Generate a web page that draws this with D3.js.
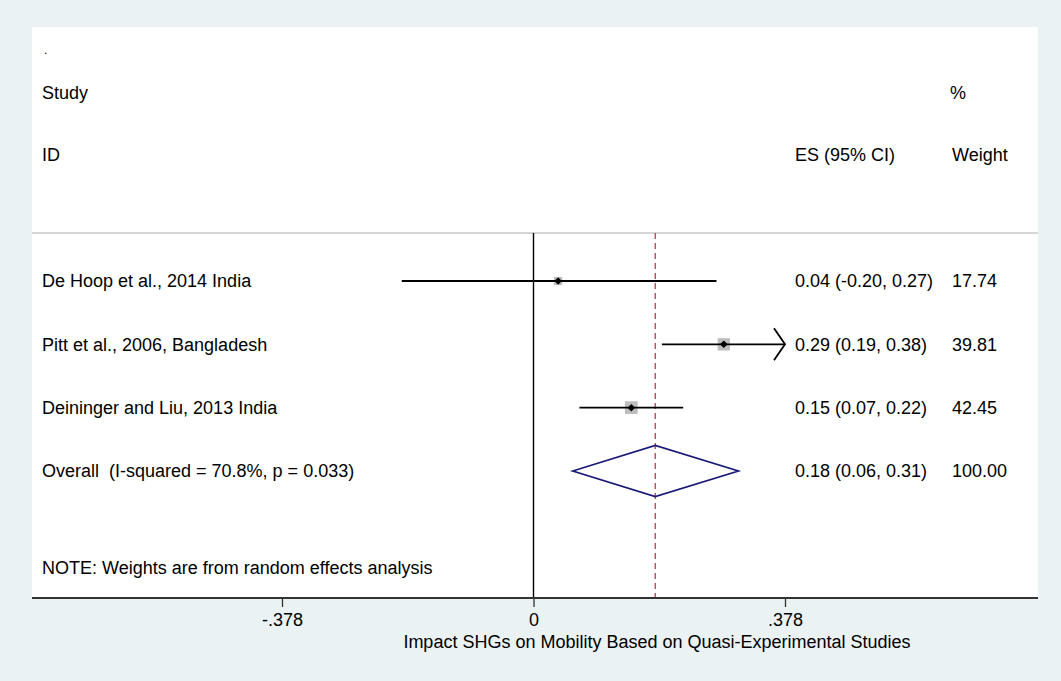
<!DOCTYPE html>
<html>
<head>
<meta charset="utf-8">
<script src="https://cdn.jsdelivr.net/npm/d3@7"></script>
<style>
  html, body { margin: 0; padding: 0; background: #eaf2f3; }
  svg { display: block; }
  text { font-family: "Liberation Sans", Arial, Helvetica, sans-serif; fill: #000; white-space: pre; }
</style>
</head>
<body>
<svg id="chart" width="1061" height="681"></svg>
<script>
// ---------- data ----------
const studies = ["De Hoop et al., 2014 India", "Pitt et al., 2006, Bangladesh", "Deininger and Liu, 2013 India"];
const es      = [0.037, 0.286, 0.147];
const lower   = [-0.198, 0.193, 0.069];
const upper   = [0.275, 0.380, 0.225];
const weights = [17.74, 39.81, 42.45];
const esLabels = ["0.04 (-0.20, 0.27)", "0.29 (0.19, 0.38)", "0.15 (0.07, 0.22)"];

const overallLabel = "Overall  (I-squared = 70.8%, p = 0.033)";
const overallES = 0.183;
const overallLower = 0.059;
const overallUpper = 0.308;
const overallESLabel = "0.18 (0.06, 0.31)";
const overallWeight = 100.00;

const tickValues = [-0.378, 0, 0.378];
const tickLabels = ["-.378", "0", ".378"];
const xTitle = "Impact SHGs on Mobility Based on Quasi-Experimental Studies";
const note = "NOTE: Weights are from random effects analysis";

// ---------- layout ----------
const W = 1061, H = 681;
const plot = { left: 32, right: 1038, top: 27, bottom: 598 };
const fs = 18;

const svg = d3.select("#chart");

// background
svg.append("rect").attr("x", 0).attr("y", 0).attr("width", W).attr("height", H).attr("fill", "#eaf2f3");
svg.append("rect").attr("x", plot.left).attr("y", plot.top)
  .attr("width", plot.right - plot.left).attr("height", plot.bottom - plot.top).attr("fill", "#ffffff");

// scales
const x = d3.scaleLinear().domain([-0.378, 0.378]).range([282, 785]);
// row index -> y centre
const y = d3.scaleLinear().domain([0, 3]).range([281, 471]);
const size = d3.scaleSqrt().domain([0, 100]).range([0, 19.5]);

const clampX = v => Math.max(x.domain()[0], Math.min(x.domain()[1], v));

// separator line below header
const sepY = 233;
svg.append("line").attr("x1", plot.left).attr("x2", plot.right)
  .attr("y1", sepY).attr("y2", sepY).attr("stroke", "#c8c8c8").attr("stroke-width", 1.6);

// zero line
svg.append("line").attr("x1", x(0)).attr("x2", x(0))
  .attr("y1", sepY).attr("y2", plot.bottom).attr("stroke", "#000").attr("stroke-width", 1.4);

// overall dashed line
svg.append("line").attr("x1", x(overallES)).attr("x2", x(overallES))
  .attr("y1", sepY).attr("y2", plot.bottom).attr("stroke", "#b5505a").attr("stroke-width", 1.4)
  .attr("stroke-dasharray", "6,4");

const diamondSym = d3.symbolDiamond2 || d3.symbolSquare;

// study rows
studies.forEach((s, i) => {
  const cy = y(i);
  const lo = clampX(lower[i]), hi = clampX(upper[i]);
  // weight box
  const side = size(weights[i]);
  svg.append("rect").attr("x", x(es[i]) - side / 2).attr("y", cy - side / 2)
    .attr("width", side).attr("height", side).attr("fill", "#bdbdbd");
  // CI line
  svg.append("line").attr("x1", x(lo)).attr("x2", x(hi)).attr("y1", cy).attr("y2", cy)
    .attr("stroke", "#000").attr("stroke-width", 1.8);
  // arrow if clipped
  if (upper[i] > x.domain()[1]) {
    const tx = x(hi);
    svg.append("path").attr("d", `M${tx - 11},${cy - 16}L${tx},${cy}L${tx - 11},${cy + 16}`)
      .attr("fill", "none").attr("stroke", "#000").attr("stroke-width", 1.8);
  }
  if (lower[i] < x.domain()[0]) {
    const tx = x(lo);
    svg.append("path").attr("d", `M${tx + 11},${cy - 16}L${tx},${cy}L${tx + 11},${cy + 16}`)
      .attr("fill", "none").attr("stroke", "#000").attr("stroke-width", 1.8);
  }
  // point estimate
  svg.append("path").attr("d", d3.symbol(diamondSym, 36)())
    .attr("transform", `translate(${x(es[i])},${cy})`).attr("fill", "#000");
});

// overall diamond
{
  const cy = y(3), hh = 25.5;
  svg.append("path")
    .attr("d", `M${x(overallLower)},${cy}L${x(overallES)},${cy - hh}L${x(overallUpper)},${cy}L${x(overallES)},${cy + hh}Z`)
    .attr("fill", "none").attr("stroke", "#1a1a78").attr("stroke-width", 1.7);
}

// text columns
const colLeft = 42, colES = 795, colW = 952;
function txt(str, tx, ty, opts = {}) {
  return svg.append("text").attr("x", tx).attr("y", ty).attr("dy", "0.36em")
    .attr("font-size", opts.size || fs).attr("text-anchor", opts.anchor || "start").text(str);
}
txt(".", 44, 50, { size: 12 });
txt("Study", colLeft, 93);
txt("%", 950, 93);
txt("ID", colLeft, 155);
txt("ES (95% CI)", colES, 155);
txt("Weight", colW, 155);

const fmtW = d3.format(".2f");
studies.forEach((s, i) => {
  txt(s, colLeft, y(i));
  txt(esLabels[i], colES, y(i));
  txt(fmtW(weights[i]), colW, y(i));
});
txt(overallLabel, colLeft, y(3));
txt(overallESLabel, colES, y(3));
txt(fmtW(overallWeight), colW, y(3));
txt(note, colLeft, 568);

// x axis
const axis = d3.axisBottom(x).tickValues(tickValues)
  .tickFormat((d, i) => tickLabels[i]).tickSize(9).tickPadding(6).tickSizeOuter(0);
const gAxis = svg.append("g").attr("transform", `translate(0,${plot.bottom})`).call(axis);
gAxis.select(".domain").remove();
gAxis.selectAll(".tick line").attr("stroke", "#333").attr("stroke-width", 1.3);
gAxis.selectAll(".tick text").attr("font-size", fs).attr("font-family", "Liberation Sans, Arial, sans-serif").attr("fill", "#000");
svg.append("line").attr("x1", plot.left).attr("x2", plot.right)
  .attr("y1", plot.bottom).attr("y2", plot.bottom).attr("stroke", "#333").attr("stroke-width", 1.8);

txt(xTitle, 657, 642, { anchor: "middle" });
</script>
</body>
</html>
